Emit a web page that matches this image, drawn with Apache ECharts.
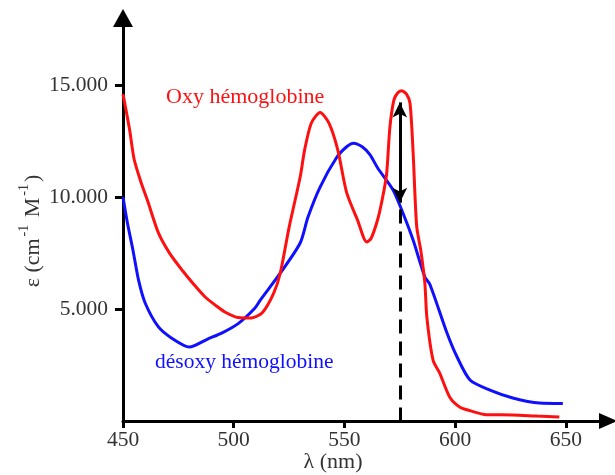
<!DOCTYPE html>
<html>
<head>
<meta charset="utf-8">
<title>Hémoglobine</title>
<script src="https://cdn.jsdelivr.net/npm/echarts@6/dist/echarts.min.js"></script>
<style>
  html, body { margin: 0; padding: 0; background: #fff; }
  #chart { width: 615px; height: 475px; }
</style>
</head>
<body>
<div id="chart"></div>
<script>
// longueurs d'onde (nm) et coefficients (cm-1 M-1)
var oxyNm = [450, 453, 455, 458, 461, 466, 471, 477, 482, 487, 492, 496, 502, 508, 513, 518, 521, 525, 530, 532, 535, 539, 543, 547, 551, 556, 560, 562, 565, 567, 569, 570.5, 572.3, 574, 575.8, 578, 579.6, 581, 582.6, 584.5, 586.3, 587.2, 590, 593, 597.5, 602, 607, 614, 626, 637, 647]
var oxyEps = [14600, 13000, 11700, 10700, 9870, 8400, 7500, 6700, 6100, 5550, 5150, 4870, 4620, 4600, 4850, 5700, 6600, 8650, 10900, 12100, 13300, 13780, 13300, 12100, 10200, 8950, 8000, 8150, 9000, 9870, 11000, 13100, 14330, 14650, 14750, 14600, 14200, 12000, 8700, 7600, 6160, 4640, 2720, 2140, 1070, 625, 450, 280, 270, 220, 180]

var desoxyNm = [450, 452, 454.5, 457, 460, 466, 472, 480, 488, 495, 502, 509.6, 512, 521, 530, 533.5, 539, 546.6, 551, 554, 558, 561.5, 565, 572, 576.4, 581, 586.3, 588.6, 596.3, 600.8, 606.7, 615.7, 626, 638, 648.6]
var desoxyEps = [10000, 8840, 7630, 6300, 5270, 4200, 3700, 3300, 3650, 3950, 4350, 5050, 5400, 6600, 7950, 9100, 10450, 11790, 12250, 12410, 12250, 11900, 11300, 10310, 9290, 8080, 6430, 6100, 3930, 2870, 1830, 1380, 1030, 800, 780]

var xTicks = [450, 500, 550, 600, 650]
var yTicks = [5000, 10000, 15000]

// double flèche à 575 nm
var arrowNm = 575
var arrowTop = 14230
var arrowBottom = 9750
var dashTop = 9450

function pairs(xs, ys) {
  return xs.map(function(x, i) { return [x, ys[i]] })
}

var chart = echarts.init(document.getElementById('chart'))
var serif = '"Liberation Serif", "DejaVu Serif", serif'

chart.setOption({
  animation: false,
  grid: { left: 123, right: 7, top: 18, bottom: 54, outerBoundsMode: 'none', containLabel: false },
  xAxis: {
    type: 'value',
    min: 450,
    max: 669,
    splitLine: { show: false },
    axisLine: {
      lineStyle: { color: '#000', width: 3 },
      symbol: ['none', 'triangle'],
      symbolSize: [16, 18]
    },
    axisTick: { customValues: xTicks, length: 7, lineStyle: { color: '#000', width: 3 } },
    axisLabel: { customValues: xTicks, margin: 8, color: '#333', fontSize: 21.5, fontFamily: serif }
  },
  yAxis: {
    type: 'value',
    min: 0,
    max: 18000,
    splitLine: { show: false },
    axisLine: {
      lineStyle: { color: '#000', width: 3 },
      symbol: ['none', 'triangle'],
      symbolSize: [20, 18]
    },
    axisTick: { customValues: yTicks, length: 8, lineStyle: { color: '#000', width: 3 } },
    axisLabel: {
      customValues: yTicks,
      margin: 15,
      color: '#333',
      fontSize: 21.5,
      fontFamily: serif,
      formatter: function(v) { return (v / 1000) + '.000' }
    }
  },
  graphic: [
    {
      type: 'text',
      x: 333, y: 462,
      style: { text: 'λ (nm)', fill: '#333', font: '22px ' + serif, align: 'center', verticalAlign: 'middle' }
    },
    {
      type: 'text',
      x: 166, y: 97,
      style: { text: 'Oxy hémoglobine', fill: '#ff1010', font: '22px ' + serif, verticalAlign: 'middle' }
    },
    {
      type: 'text',
      x: 155, y: 362,
      style: { text: 'désoxy hémoglobine', fill: '#1010ff', font: '21.5px ' + serif, verticalAlign: 'middle' }
    },
    {
      type: 'text',
      x: 33, y: 231,
      rotation: Math.PI / 2,
      style: {
        text: 'ε (cm{sup|-1} M{sup|-1})',
        fill: '#333',
        font: '22px ' + serif,
        align: 'center',
        verticalAlign: 'middle',
        rich: {
          sup: { fontSize: 14, fontFamily: serif, fill: '#333', padding: [0, 2, 18, 2] }
        }
      }
    }
  ],
  series: [
    {
      name: 'Oxy hémoglobine',
      type: 'line',
      data: pairs(oxyNm, oxyEps),
      showSymbol: false,
      smooth: 0.25,
      lineStyle: { color: '#ff1010', width: 3 },
      z: 3
    },
    {
      name: 'désoxy hémoglobine',
      type: 'line',
      data: pairs(desoxyNm, desoxyEps),
      showSymbol: false,
      smooth: 0.25,
      lineStyle: { color: '#1010ff', width: 3 },
      z: 2,
      markLine: {
        silent: true,
        animation: false,
        label: { show: false },
        emphasis: { disabled: true },
        data: [
          [
            { coord: [arrowNm, arrowTop], symbol: 'arrow', symbolSize: [11, 15] },
            { coord: [arrowNm, arrowBottom], symbol: 'arrow', symbolSize: [11, 15], lineStyle: { color: '#000', width: 3, type: 'solid' } }
          ],
          [
            { coord: [arrowNm, dashTop], symbol: 'none' },
            { coord: [arrowNm, 0], symbol: 'none', lineStyle: { color: '#000', width: 3, type: [14, 8] } }
          ]
        ]
      }
    }
  ]
})
</script>
</body>
</html>
